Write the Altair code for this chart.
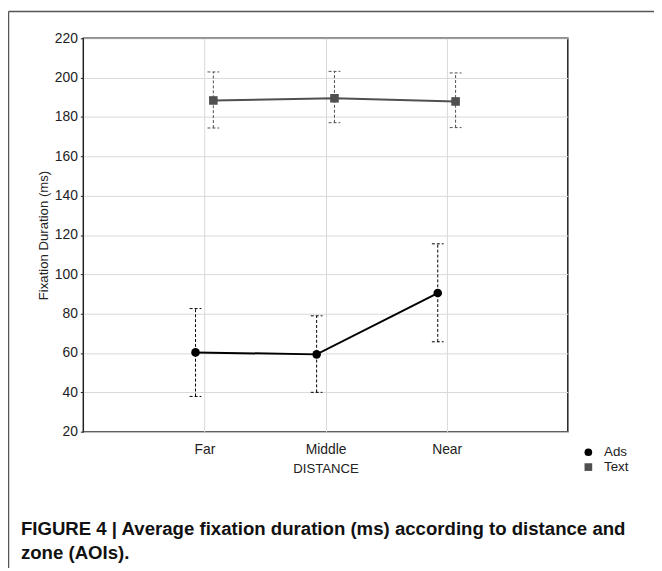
import altair as alt
import pandas as pd

distance = ["Far", "Middle", "Near"]
series = ["Ads", "Text"]
ads_mean = [60.3, 59.3, 90.5]
ads_upper = [82.6, 78.9, 115.5]
ads_lower = [37.9, 40.0, 65.7]
text_mean = [188.4, 189.5, 187.9]
text_upper = [202.9, 203.2, 202.4]
text_lower = [174.4, 177.1, 174.6]
y_ticks = [20, 40, 60, 80, 100, 120, 140, 160, 180, 200, 220]
caption1 = "FIGURE 4 | Average fixation duration (ms) according to distance and"
caption2 = "zone (AOIs)."

rows = []
for i, d in enumerate(distance):
    rows.append({"distance": d, "series": "Ads", "mean": ads_mean[i], "upper": ads_upper[i], "lower": ads_lower[i]})
    rows.append({"distance": d, "series": "Text", "mean": text_mean[i], "upper": text_upper[i], "lower": text_lower[i]})
df = pd.DataFrame(rows)
df["grp"] = df["series"]

x_enc = alt.X("distance:N", sort=distance,
              scale=alt.Scale(type="point", padding=1),
              axis=alt.Axis(title="DISTANCE", labelAngle=0, grid=True, ticks=False,
                            labelPadding=11, titlePadding=5))
xo_enc = alt.XOffset("series:N", sort=series,
                     scale=alt.Scale(type="point", range=[-9, 9], padding=0))
y_scale = alt.Scale(domain=[20, 220], nice=False, zero=False)
y_axis = alt.Axis(title="Fixation Duration (ms)", values=y_ticks, grid=True, labelOverlap=False,
                  tickSize=3, labelPadding=3, titlePadding=4)
col_range = ["#000000", "#505050"]
# stroke scale uses the data-derived domain (sorted: Ads, Text) so its hidden legend
# is not merged with the colour/shape legend
stroke_enc = alt.Stroke("grp:N", scale=alt.Scale(range=col_range), legend=None)

base = alt.Chart(df)

err = base.mark_rule(strokeDash=[3, 2], strokeWidth=1).encode(
    x=x_enc, xOffset=xo_enc,
    y=alt.Y("lower:Q", scale=y_scale, axis=y_axis), y2="upper:Q",
    stroke=stroke_enc)

cap_top = base.mark_point(shape="M-1,0L1,0", filled=False, size=140, strokeWidth=1,
                          strokeDash=[3, 2], opacity=1).encode(
    x=x_enc, xOffset=xo_enc, y=alt.Y("upper:Q", scale=y_scale, axis=y_axis),
    stroke=stroke_enc)
cap_bot = base.mark_point(shape="M-1,0L1,0", filled=False, size=140, strokeWidth=1,
                          strokeDash=[3, 2], opacity=1).encode(
    x=x_enc, xOffset=xo_enc, y=alt.Y("lower:Q", scale=y_scale, axis=y_axis),
    stroke=stroke_enc)

line = base.mark_line(strokeWidth=2).encode(
    x=x_enc, xOffset=xo_enc, y=alt.Y("mean:Q", scale=y_scale, axis=y_axis),
    stroke=stroke_enc)

leg = alt.Legend(title=None, orient="none", legendX=503, legendY=411)
pts = base.mark_point(filled=True, size=75, opacity=1).encode(
    x=x_enc, xOffset=xo_enc, y=alt.Y("mean:Q", scale=y_scale, axis=y_axis),
    color=alt.Color("series:N", scale=alt.Scale(domain=series, range=col_range), legend=leg),
    shape=alt.Shape("series:N", scale=alt.Scale(domain=series, range=["circle", "square"]),
                    legend=leg))

one = pd.DataFrame({"k": [0]})
frame_top = alt.Chart(one).mark_rule(color="#555555", strokeWidth=1.5).encode(
    x=alt.value(-75.5), x2=alt.value(600), y=alt.value(-27))
frame_left = alt.Chart(one).mark_rule(color="#555555", strokeWidth=1.5).encode(
    x=alt.value(-75.5), y=alt.value(-27), y2=alt.value(540))

cap_font = "Liberation Sans"
t1 = alt.Chart(one).mark_text(align="left", baseline="alphabetic", font=cap_font,
                              fontSize=18.8, fontWeight="bold", color="#111111").encode(
    x=alt.value(-63), y=alt.value(501), text=alt.value(caption1))
t2 = alt.Chart(one).mark_text(align="left", baseline="alphabetic", font=cap_font,
                              fontSize=18.8, fontWeight="bold", color="#111111").encode(
    x=alt.value(-63), y=alt.value(526), text=alt.value(caption2))

chart = alt.layer(frame_top, frame_left, err, cap_top, cap_bot, line, pts, t1, t2).properties(
    width=489, height=397,
    autosize=alt.AutoSizeParams(type="none"),
    padding={"left": 76, "top": 28, "right": 87, "bottom": 135},
).configure_view(stroke="#222222", strokeWidth=1.5).configure_axis(
    domain=False, gridColor="#d9d9d9", gridWidth=1, tickColor="#222222",
    labelFont="Liberation Sans", labelFontSize=14, labelColor="#222222",
    titleFont="Liberation Sans", titleFontSize=13.3, titleFontWeight="normal", titleColor="#222222",
).configure_legend(
    labelFont="Liberation Sans", labelFontSize=13.5, labelColor="#222222",
    symbolSize=60, rowPadding=0, padding=0, labelOffset=9, symbolStrokeWidth=0,
)

chart.save("out.html", embed_options={"renderer": "svg", "actions": False})
